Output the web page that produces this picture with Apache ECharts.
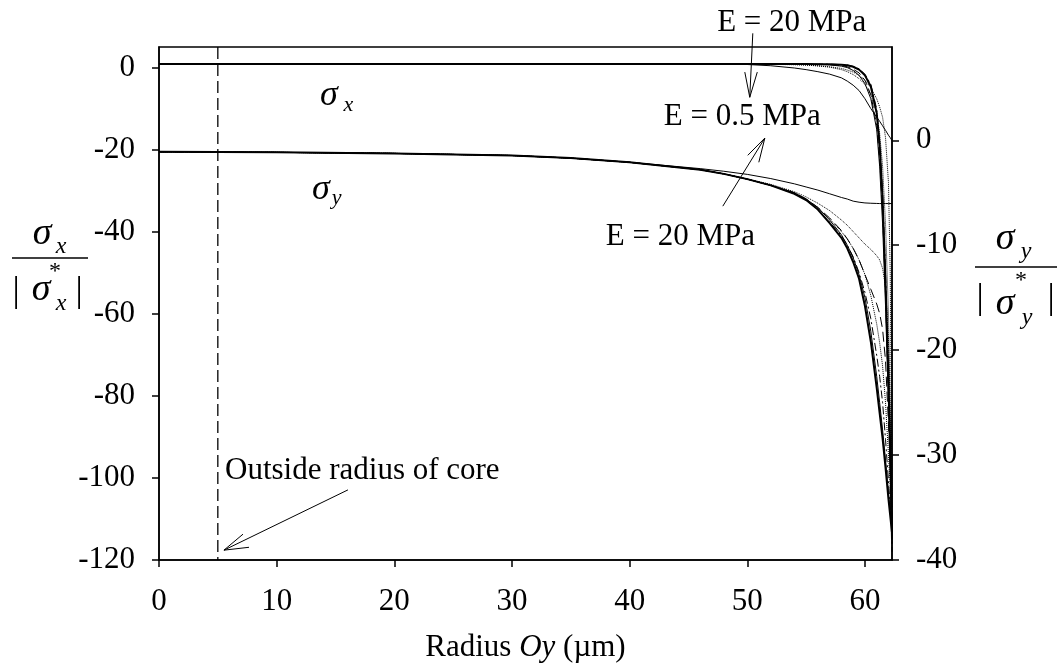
<!DOCTYPE html>
<html><head><meta charset="utf-8">
<script src="https://cdn.jsdelivr.net/npm/echarts@6/dist/echarts.min.js"></script>
<style>html,body{margin:0;padding:0;background:#fff}#c{width:1060px;height:671px}</style>
</head><body><div id="c"></div>
<script>
// ---- data ----
const radius = [0, 10, 20, 30, 35, 40, 43, 46, 48, 50, 52, 54, 55, 56, 57, 58, 58.5, 59, 59.5, 60, 60.5, 61, 61.25, 61.5, 61.75, 62, 62.15, 62.3];
// sigma_x / |sigma_x*|  (left axis)
const sxA = [0.95,0.95,0.95,0.95,0.95,0.95,0.95,0.95,0.95,0.95,0.95,0.95,0.95,0.93,0.9,0.8,0.65,0.3,-0.4,-1.8,-4.5,-11,-19,-32,-52,-76,-93,-115];
const sxB = [0.95,0.95,0.95,0.95,0.95,0.95,0.95,0.95,0.95,0.95,0.95,0.95,0.95,0.92,0.85,0.6,0.3,-0.3,-1.2,-3,-6.5,-14,-22,-35,-55,-80,-97,-113];
const sxC = [0.95,0.95,0.95,0.95,0.95,0.95,0.95,0.95,0.95,0.95,0.9,0.8,0.7,0.5,0.2,-0.4,-0.9,-1.6,-2.6,-4,-6.5,-11,-16,-24,-38,-60,-84,-110];
const sxD = [0.95,0.95,0.95,0.95,0.95,0.95,0.95,0.95,0.95,0.95,0.95,0.85,0.75,0.55,0.3,-0.1,-0.5,-1.0,-1.8,-3,-4.8,-7.5,-9.5,-12,-17,-28,-50,-105];
const sxE = [0.95,0.95,0.95,0.95,0.95,0.95,0.95,0.95,0.95,0.95,0.95,0.95,0.95,0.95,0.92,0.82,0.7,0.4,-0.2,-1.5,-4,-10,-18,-30,-50,-74,-92,-118];
const sxF = [0.95,0.95,0.95,0.95,0.95,0.95,0.95,0.95,0.95,0.95,0.95,0.95,0.95,0.9,0.75,0.45,0.1,-0.6,-1.8,-3.8,-7.5,-15,-24,-38,-58,-82,-99,-116];
const sxT = [0.95,0.95,0.95,0.95,0.95,0.95,0.95,0.95,0.93,0.85,0.55,0,-0.4,-0.9,-1.5,-2.4,-3.2,-4.2,-5.5,-7.5,-9.9,-12,-13,-14.1,-15.2,-16.4,-17,-17.7];
// sigma_y / |sigma_y*|  (right axis)
const syA = [-1.1,-1.15,-1.25,-1.45,-1.7,-2.1,-2.45,-2.8,-3.2,-3.7,-4.3,-5.1,-5.7,-6.6,-7.9,-9.3,-10.3,-11.6,-13.2,-15.8,-19.2,-23.6,-26,-28.4,-31.2,-34.2,-35.8,-37.4];
const syB = [-1.1,-1.15,-1.25,-1.45,-1.7,-2.1,-2.45,-2.8,-3.2,-3.7,-4.3,-5.0,-5.6,-6.4,-7.6,-9.0,-10.0,-11.2,-12.8,-15,-18.2,-22.5,-25,-27.6,-30.5,-33.6,-35.3,-37];
const syC = [-1.1,-1.15,-1.25,-1.45,-1.7,-2.1,-2.45,-2.8,-3.2,-3.7,-4.3,-5.0,-5.6,-6.4,-7.4,-8.6,-9.4,-10.3,-11.4,-12.8,-14.2,-15.6,-16.5,-18,-21,-27,-31,-36];
const syD = [-1.1,-1.15,-1.25,-1.45,-1.7,-2.1,-2.45,-2.8,-3.2,-3.7,-4.2,-4.9,-5.4,-6.0,-6.7,-7.6,-8.1,-8.7,-9.3,-9.9,-10.4,-11.0,-11.4,-12.2,-14,-19,-26,-35];
const syE = [-1.1,-1.15,-1.25,-1.45,-1.7,-2.1,-2.45,-2.8,-3.2,-3.7,-4.3,-5.0,-5.6,-6.5,-7.5,-8.7,-9.4,-10.3,-11.4,-12.8,-14.8,-17.5,-19.3,-21.5,-25,-30,-33,-36.5];
const syF = [-1.1,-1.15,-1.25,-1.45,-1.7,-2.1,-2.45,-2.8,-3.2,-3.7,-4.3,-5.1,-5.7,-6.6,-7.8,-9.1,-10,-11.1,-12.6,-14.5,-17,-20.5,-22.5,-25,-28.5,-32.5,-34.8,-37];
const syT = [-1.1,-1.15,-1.25,-1.45,-1.7,-2.1,-2.4,-2.7,-2.95,-3.25,-3.65,-4.15,-4.45,-4.75,-5.1,-5.45,-5.6,-5.8,-5.9,-5.97,-6.0,-6.02,-6.03,-6.03,-6.03,-6.03,-6.03,-6.03];
const coreRadius = 5;
const xTicks = [0, 10, 20, 30, 40, 50, 60];
const leftTicks = [-120, -100, -80, -60, -40, -20, 0];
const rightTicks = [-40, -30, -20, -10, 0];

// ---- chart ----
const FONT = '"Liberation Serif", "Times New Roman", serif';
const zip = (xs, ys) => xs.map((x, i) => [x, ys[i]]);
const chart = echarts.init(document.getElementById('c'), null, {renderer: 'canvas'});

function lineSeries(vals, yIdx, type, width) {
  return {
    type: 'line', xAxisIndex: 0, yAxisIndex: yIdx, data: zip(radius, vals),
    showSymbol: false, symbol: 'none', silent: true, animation: false,
    lineStyle: {color: '#000', width: width, type: type}
  };
}
const LEFT_MIN = -120, LEFT_MAX = 5.12, RIGHT_MIN = -40, RIGHT_MAX = 8.89;

const axisCommon = {
  axisLine: {show: true, onZero: false, lineStyle: {color: '#000', width: 1.5}},
  axisTick: {show: true, inside: false, length: 7, lineStyle: {color: '#000', width: 1.5}},
  splitLine: {show: false},
};

chart.setOption({
  animation: false,
  backgroundColor: '#fff',
  grid: {left: 159, right: 168, top: 47, bottom: 111, containLabel: false, outerBoundsMode: 'none',
         show: true, borderColor: '#000', borderWidth: 1.5, backgroundColor: 'transparent'},
  xAxis: [{
    type: 'value', min: 0, max: 62.3, interval: 10, position: 'bottom',
    ...axisCommon,
    axisTick: {...axisCommon.axisTick, customValues: xTicks},
    axisLabel: {customValues: xTicks, margin: 26, color: '#000', fontFamily: FONT, fontSize: 31,
                formatter: v => xTicks.includes(v) ? String(v) : ''},
    name: '{n|Radius }{i|Oy}{n| (µm)}', nameLocation: 'middle', nameGap: 72,
    nameTextStyle: {rich: {
      n: {fontFamily: FONT, fontSize: 31, color: '#000'},
      i: {fontFamily: FONT, fontSize: 31, fontStyle: 'italic', color: '#000'}
    }}
  }],
  yAxis: [{
    type: 'value', min: LEFT_MIN, max: LEFT_MAX, interval: 20, position: 'left',
    ...axisCommon,
    axisTick: {...axisCommon.axisTick, customValues: leftTicks},
    axisLabel: {customValues: leftTicks, margin: 24, color: '#000', fontFamily: FONT, fontSize: 31,
                formatter: v => leftTicks.includes(v) ? String(v) : ''}
  }, {
    type: 'value', min: RIGHT_MIN, max: RIGHT_MAX, interval: 10, position: 'right',
    ...axisCommon,
    axisTick: {...axisCommon.axisTick, customValues: rightTicks},
    axisLabel: {customValues: rightTicks, margin: 24, color: '#000', fontFamily: FONT, fontSize: 31,
                formatter: v => rightTicks.includes(v) ? String(v) : ''}
  }],
  series: [
    {type: 'line', xAxisIndex: 0, yAxisIndex: 0, data: [[coreRadius, LEFT_MAX], [coreRadius, LEFT_MIN]],
     showSymbol: false, symbol: 'none', silent: true, lineStyle: {color: '#000', width: 1.3, type: [12, 5]}},
    lineSeries(sxT, 0, 'solid', 1),
    lineSeries(sxD, 0, 'dotted', 1),
    lineSeries(sxC, 0, 'dotted', 1),
    lineSeries(sxB, 0, [8, 4], 1),
    lineSeries(sxE, 0, [8, 3, 2, 3], 1),
    lineSeries(sxF, 0, 'solid', 1),
    lineSeries(sxA, 0, 'solid', 2),
    lineSeries(syT, 1, 'solid', 1),
    lineSeries(syD, 1, 'dotted', 1),
    lineSeries(syE, 1, 'dotted', 1),
    lineSeries(syC, 1, [10, 5], 1),
    lineSeries(syF, 1, [8, 3, 2, 3], 1),
    lineSeries(syB, 1, 'solid', 1),
    lineSeries(syA, 1, 'solid', 2)
  ]
});

// ---- annotations (positioned in data coordinates of x / left y axis) ----
const P = (x, y) => chart.convertToPixel({xAxisIndex: 0, yAxisIndex: 0}, [x, y]);
const g = [];
function txt(pos, text, size, italic, align) {
  g.push({type: 'text', x: pos[0], y: pos[1], silent: true, z: 100,
    style: {text: text, font: (italic ? 'italic ' : '') + size + 'px ' + FONT, fill: '#000',
            align: align || 'center', verticalAlign: 'middle'}});
}
function seg(a, b, w) {
  g.push({type: 'line', silent: true, z: 100, shape: {x1: a[0], y1: a[1], x2: b[0], y2: b[1]},
          style: {stroke: '#000', lineWidth: w || 1}});
}
function arrow(tail, tip, w1, w2) {
  const t = P(...tip);
  seg(P(...tail), t); seg(P(...w1), t); seg(P(...w2), t);
}
// in-plot labels
txt(P(14.44, -6.65), 'σ', 36, true);
txt(P(16.1, -9.2), 'x', 22, true);
txt(P(13.76, -29.6), 'σ', 36, true);
txt(P(15.1, -31.8), 'y', 22, true);
txt(P(53.78, 11.02), 'E = 20 MPa', 31, false);
txt(P(49.57, -11.9), 'E = 0.5 MPa', 31, false);
txt(P(44.31, -41.15), 'E = 20 MPa', 31, false);
txt(P(5.61, -98.3), 'Outside radius of core', 31, false, 'left');
arrow([50.47, 8.46], [50.21, -7.14], [49.79, -1.0], [50.85, -1.0]);
arrow([47.92, -33.7], [51.49, -17.1], [50.04, -21.3], [50.98, -23.0]);
arrow([16.06, -102.9], [5.52, -117.6], [7.14, -113.7], [7.65, -116.9]);

// axis titles (fractions) in page pixels
function ptxt(x, y, text, size, italic) { txt([x, y], text, size, italic); }
// left
ptxt(42, 234, 'σ', 38, true); ptxt(61, 247, 'x', 24, true);
seg([12, 258], [88, 258], 1.5);
ptxt(16, 292, '|', 36, false); ptxt(41, 290, 'σ', 38, true); ptxt(55, 272, '*', 24, false);
ptxt(61, 304, 'x', 24, true); ptxt(79, 292, '|', 36, false);
// right
ptxt(1005, 239, 'σ', 38, true); ptxt(1026, 252, 'y', 24, true);
seg([975, 267], [1057, 267], 1.5);
ptxt(980, 299, '|', 36, false); ptxt(1005, 304, 'σ', 38, true); ptxt(1021, 281, '*', 24, false);
ptxt(1027, 318, 'y', 24, true); ptxt(1051, 299, '|', 36, false);

chart.setOption({graphic: g});
</script>
</body></html>
